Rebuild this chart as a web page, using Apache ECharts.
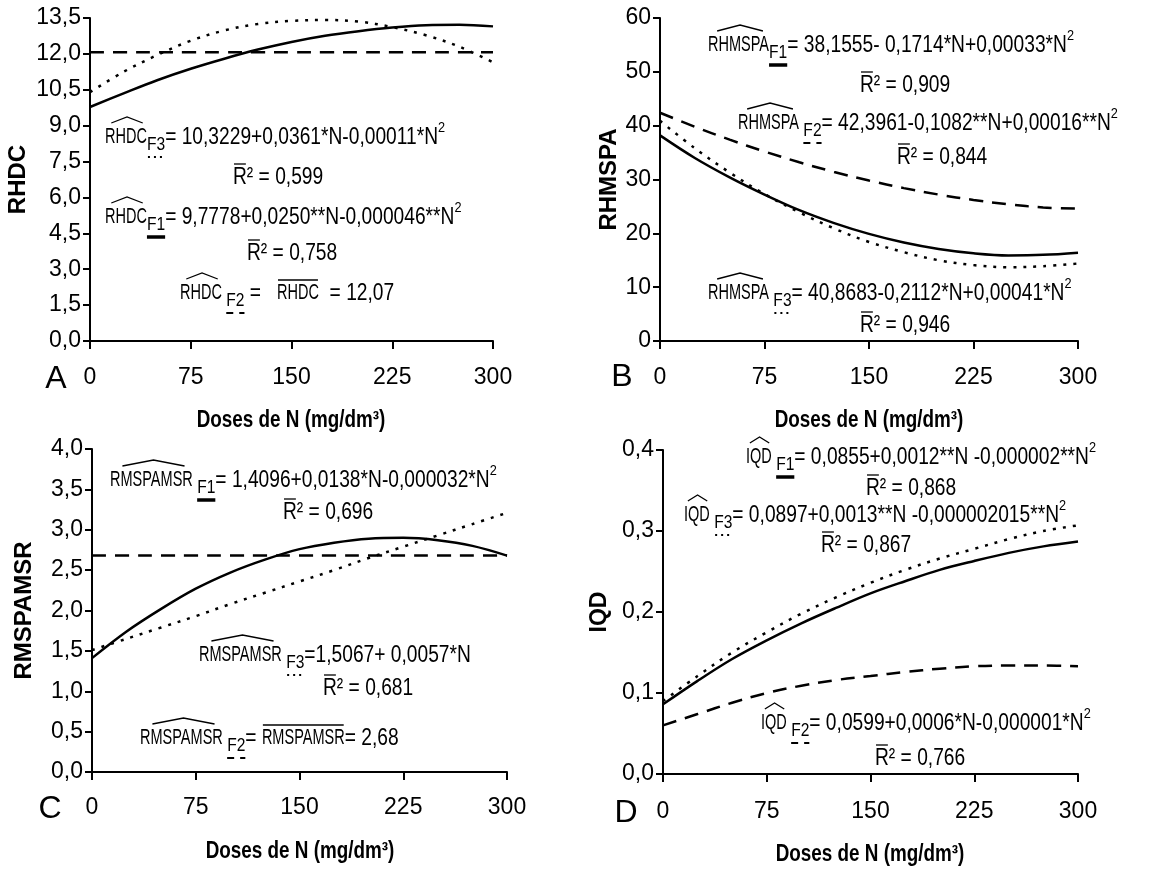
<!DOCTYPE html>
<html><head><meta charset="utf-8">
<script src="https://cdn.jsdelivr.net/npm/echarts@6/dist/echarts.min.js"></script>
<style>html,body{margin:0;padding:0;background:#fff}#c{width:1162px;height:870px}</style>
</head><body><div id="c"></div>
<script>
// ---------- data ----------
const doses = [0, 25, 50, 75, 100, 125, 150, 175, 200, 225, 250, 275, 300];

const rhdcF1 = [9.78, 10.35, 10.90, 11.38, 11.80, 12.18, 12.50, 12.76, 12.95, 13.10, 13.20, 13.22, 13.15];
const rhdcF2 = [12.07, 12.07, 12.07, 12.07, 12.07, 12.07, 12.07, 12.07, 12.07, 12.07, 12.07, 12.07, 12.07];
const rhdcF3 = [10.40, 11.25, 11.95, 12.55, 12.98, 13.25, 13.38, 13.42, 13.35, 13.12, 12.78, 12.30, 11.65];

const rhmspaF1 = [38.2, 34.0, 30.4, 27.2, 24.3, 21.9, 19.9, 18.3, 17.1, 16.3, 15.9, 16.0, 16.4];
const rhmspaF2 = [42.4, 39.8, 37.4, 35.2, 33.2, 31.4, 29.8, 28.4, 27.2, 26.2, 25.4, 24.8, 24.6];
const rhmspaF3 = [40.9, 35.8, 31.3, 27.3, 23.9, 20.9, 18.4, 16.5, 15.0, 14.1, 13.7, 13.9, 14.4];

const rmsF1 = [1.41, 1.74, 2.02, 2.27, 2.47, 2.63, 2.76, 2.84, 2.89, 2.90, 2.87, 2.80, 2.68];
const rmsF2 = [2.68, 2.68, 2.68, 2.68, 2.68, 2.68, 2.68, 2.68, 2.68, 2.68, 2.68, 2.68, 2.68];
const rmsF3 = [1.51, 1.65, 1.79, 1.93, 2.08, 2.22, 2.36, 2.50, 2.65, 2.79, 2.93, 3.07, 3.21];

const iqdF1 = [0.086, 0.115, 0.142, 0.165, 0.186, 0.205, 0.223, 0.238, 0.252, 0.263, 0.273, 0.281, 0.287];
const iqdF2 = [0.060, 0.074, 0.088, 0.100, 0.109, 0.116, 0.121, 0.126, 0.130, 0.133, 0.134, 0.134, 0.133];
const iqdF3 = [0.090, 0.121, 0.150, 0.175, 0.198, 0.218, 0.236, 0.252, 0.266, 0.278, 0.290, 0.300, 0.307];

const xTitle = 'Doses de N (mg/dm³)';
const yTitles = ['RHDC', 'RHMSPA', 'RMSPAMSR', 'IQD'];
const panelLetters = ['A', 'B', 'C', 'D'];
const yMax = [13.5, 60, 4, 0.4];
const yStep = [1.5, 10, 0.5, 0.1];
const yDecimals = [1, 0, 1, 1];

// ---------- layout / style ----------
const FONT = "'Liberation Sans', Arial, sans-serif";
const grids = [
  {left: 90, top: 18, width: 403, height: 323},
  {left: 660, top: 18, width: 418, height: 323},
  {left: 92, top: 449, width: 415, height: 323},
  {left: 663, top: 450, width: 415, height: 324}
];
const yNameGap = [60, 38, 56, 52];
const yNameSize = [24, 24, 24, 23];
const xLabelMargin = [25, 25, 24, 26];
const xTitlePos = [[291, 421], [869, 421], [300, 852], [870, 855]];

const ctx = document.createElement('canvas').getContext('2d');
function tw(t, size, weight) { ctx.font = (weight || 'normal') + ' ' + size + 'px ' + FONT; return ctx.measureText(t).width; }

const G = [];
function txt(x, y, t, size, sx, weight, align) {
  G.push({type: 'text', x: x, y: y, scaleX: sx || 1, z: 20,
    style: {text: t, fill: '#000', font: (weight || 'normal') + ' ' + size + 'px ' + FONT,
      align: align || 'left', verticalAlign: 'middle', textAlign: align || 'left', textVerticalAlign: 'middle'}});
}
function seg(x1, y1, x2, y2, w, dash) {
  G.push({type: 'line', z: 20, shape: {x1: x1, y1: y1, x2: x2, y2: y2},
    style: {stroke: '#000', lineWidth: w, lineDash: dash || null}});
}
const KIND = {
  name: {size: 22, sx: 0.66, dy: 0},
  sub: {size: 19, sx: 0.82, dy: 8},
  sup: {size: 15, sx: 0.85, dy: -9},
  body: {size: 24, sx: 0.8, dy: 0}
};
function eq(x, y, parts) {
  let cx = x;
  for (const p of parts) {
    const K = KIND[p.k || 'body'];
    const w = tw(p.t, K.size) * K.sx;
    txt(cx, y + K.dy, p.t, K.size, K.sx);
    if (p.hat) {
      const a = cx + w * 0.15, b = cx + w * 0.9;
      G.push({type: 'polyline', z: 20, shape: {points: [[a, y - 14], [(a + b) / 2, y - 20], [b, y - 14]]},
        style: {stroke: '#000', lineWidth: 1.3, fill: null}});
    }
    if (p.over) seg(cx + 1, y - 13, cx + w - 1, y - 13, 1.3);
    if (p.mark) {
      const lead = tw(p.t.match(/^\s*/)[0], K.size) * K.sx;
      const a = cx + lead, b = cx + w, yy = y + 20;
      if (p.mark === 'solid') seg(a, yy, b, yy, 3.5);
      else if (p.mark === 'dash') seg(a, yy, b, yy, 2, [7, 6]);
      else seg(a + 1, yy, b, yy, 2, [2, 4]);
    }
    cx += w;
  }
}
function r2(x, y, val) { eq(x, y, [{t: 'R', over: true}, {t: '² = ' + val}]); }

// Panel A texts
eq(105, 137, [{t: 'RHDC', k: 'name', hat: true}, {t: 'F3', k: 'sub', mark: 'dot'}, {t: '= 10,3229+0,0361*N-0,00011*N'}, {t: '2', k: 'sup'}]);
r2(233, 177, '0,599');
eq(105, 217, [{t: 'RHDC', k: 'name', hat: true}, {t: 'F1', k: 'sub', mark: 'solid'}, {t: '= 9,7778+0,0250**N-0,000046**N'}, {t: '2', k: 'sup'}]);
r2(247, 253, '0,758');
eq(180, 293, [{t: 'RHDC', k: 'name', hat: true}, {t: ' F2', k: 'sub', mark: 'dash'}, {t: ' =   '}, {t: 'RHDC', k: 'name', over: true}, {t: '  = 12,07'}]);
// Panel B texts
eq(708, 45, [{t: 'RHMSPA', k: 'name', hat: true}, {t: 'F1', k: 'sub', mark: 'solid'}, {t: '= 38,1555- 0,1714*N+0,00033*N'}, {t: '2', k: 'sup'}]);
r2(860, 85, '0,909');
eq(738, 123, [{t: 'RHMSPA', k: 'name', hat: true}, {t: ' F2', k: 'sub', mark: 'dash'}, {t: '= 42,3961-0,1082**N+0,00016**N'}, {t: '2', k: 'sup'}]);
r2(897, 157, '0,844');
eq(708, 293, [{t: 'RHMSPA', k: 'name', hat: true}, {t: ' F3', k: 'sub', mark: 'dot'}, {t: '= 40,8683-0,2112*N+0,00041*N'}, {t: '2', k: 'sup'}]);
r2(860, 325, '0,946');
// Panel C texts
eq(110, 480, [{t: 'RMSPAMSR', k: 'name', hat: true}, {t: ' F1', k: 'sub', mark: 'solid'}, {t: '= 1,4096+0,0138*N-0,000032*N'}, {t: '2', k: 'sup'}]);
r2(283, 512, '0,696');
eq(199, 655, [{t: 'RMSPAMSR', k: 'name', hat: true}, {t: ' F3', k: 'sub', mark: 'dot'}, {t: '=1,5067+ 0,0057*N'}]);
r2(323, 688, '0,681');
eq(140, 738, [{t: 'RMSPAMSR', k: 'name', hat: true}, {t: ' F2', k: 'sub', mark: 'dash'}, {t: '= '}, {t: 'RMSPAMSR', k: 'name', over: true}, {t: '= 2,68'}]);
// Panel D texts
eq(746, 457, [{t: 'IQD', k: 'name', hat: true}, {t: ' F1', k: 'sub', mark: 'solid'}, {t: '= 0,0855+0,0012**N -0,000002**N'}, {t: '2', k: 'sup'}]);
r2(866, 488, '0,868');
eq(684, 515, [{t: 'IQD', k: 'name', hat: true}, {t: ' F3', k: 'sub', mark: 'dot'}, {t: '= 0,0897+0,0013**N -0,000002015**N'}, {t: '2', k: 'sup'}]);
r2(821, 545, '0,867');
eq(761, 723, [{t: 'IQD', k: 'name', hat: true}, {t: ' F2', k: 'sub', mark: 'dash'}, {t: '= 0,0599+0,0006*N-0,000001*N'}, {t: '2', k: 'sup'}]);
r2(875, 758, '0,766');

// panel letters and x titles
const letterPos = [[56, 379], [622, 377], [50, 809], [626, 813]];
panelLetters.forEach((L, i) => txt(letterPos[i][0], letterPos[i][1], L, 32, 1, 'normal', 'center'));
xTitlePos.forEach(p => txt(p[0], p[1], xTitle, 23, 0.82, 'bold', 'center'));

// ---------- axes & series ----------
const black = '#000';
const xAxes = grids.map((g, i) => ({
  gridIndex: i, type: 'value', min: 0, max: 300, interval: 75,
  axisLine: {show: true, onZero: false, lineStyle: {color: black, width: 2}},
  axisTick: {show: true, inside: false, length: 8, lineStyle: {color: black, width: 2}},
  axisLabel: {color: black, fontSize: 23, fontFamily: FONT, margin: xLabelMargin[i]},
  splitLine: {show: false}
}));
const yAxes = grids.map((g, i) => ({
  gridIndex: i, type: 'value', min: 0, max: yMax[i], interval: yStep[i],
  axisLine: {show: true, onZero: false, lineStyle: {color: black, width: 2}},
  axisTick: {show: true, inside: false, length: 7, lineStyle: {color: black, width: 2}},
  axisLabel: {color: black, fontSize: 23, fontFamily: FONT, margin: 9,
    formatter: v => v.toFixed(yDecimals[i]).replace('.', ',')},
  splitLine: {show: false},
  name: yTitles[i], nameLocation: 'middle', nameGap: yNameGap[i], nameRotate: 90,
  nameTextStyle: {color: black, fontSize: yNameSize[i], fontWeight: 'bold', fontFamily: FONT}
}));

const STY = {
  solid: {color: black, width: 2.5, type: 'solid'},
  dash: {color: black, width: 2.5, type: [14, 9]},
  dot: {color: black, width: 2.5, type: [3, 7]}
};
function ser(i, vals, st) {
  return {type: 'line', xAxisIndex: i, yAxisIndex: i, symbol: 'none', smooth: 0.35,
    data: doses.map((d, k) => [d, vals[k]]), lineStyle: STY[st], itemStyle: {color: black}, z: 5};
}
const series = [
  ser(0, rhdcF1, 'solid'), ser(0, rhdcF2, 'dash'), ser(0, rhdcF3, 'dot'),
  ser(1, rhmspaF1, 'solid'), ser(1, rhmspaF2, 'dash'), ser(1, rhmspaF3, 'dot'),
  ser(2, rmsF1, 'solid'), ser(2, rmsF2, 'dash'), ser(2, rmsF3, 'dot'),
  ser(3, iqdF1, 'solid'), ser(3, iqdF2, 'dash'), ser(3, iqdF3, 'dot')
];

const chart = echarts.init(document.getElementById('c'), null, {renderer: 'canvas'});
chart.setOption({
  animation: false,
  backgroundColor: '#fff',
  grid: grids.map(g => Object.assign({containLabel: false}, g)),
  xAxis: xAxes, yAxis: yAxes, series: series,
  graphic: {elements: G}
});
</script></body></html>
